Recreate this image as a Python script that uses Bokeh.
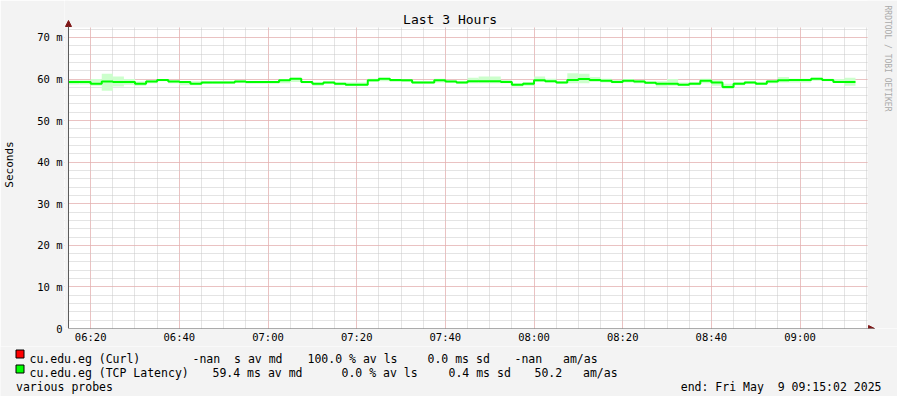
import math
import re
from bokeh.plotting import figure
from bokeh.layouts import column
from bokeh.models import (FixedTicker, Label, Arrow, NormalHead, BoxAnnotation,
                          ColumnDataSource, Range1d)
from bokeh.core.properties import value
from bokeh.embed import file_html
from bokeh.resources import INLINE

# ---------------- data ----------------
start_minute = 375          # 06:15
step_minutes = 2.5          # one RRD step = 150 s
x_end_minute = 555          # 09:15
y_top_ms = 72.4

# median TCP latency per step (ms)
median_ms = [59.3, 59.3, 58.9, 59.4, 59.3, 59.3, 58.9, 59.4, 59.8, 59.4,
             59.3, 58.9, 59.2, 59.2, 59.2, 59.4, 59.3, 59.3, 59.3, 59.7,
             60.1, 59.3, 58.9, 59.2, 58.9, 58.6, 58.6, 59.7, 60.1, 59.8,
             59.7, 59.2, 59.2, 59.7, 59.4, 59.2, 59.5, 59.5, 59.5, 59.3,
             58.6, 58.9, 59.7, 59.5, 59.2, 59.8, 60.0, 59.8, 59.6, 59.3,
             59.6, 59.4, 59.1, 58.9, 58.9, 58.6, 58.9, 59.6, 59.2, 58.1,
             58.9, 59.2, 58.9, 59.4, 59.7, 59.8, 59.8, 60.1, 59.8, 59.3,
             59.3]
# smoke band (max / min of pings per step, ms)
smoke_hi = [59.7, 59.7, 60.0, 61.3, 60.6, 60.0, 59.4, 59.8, 60.0, 59.7,
            59.5, 59.5, 59.5, 59.5, 59.5, 59.7, 59.5, 59.5, 59.5, 60.0,
            60.3, 59.4, 59.2, 59.4, 59.2, 59.2, 59.2, 60.1, 60.2, 60.0,
            59.8, 59.5, 59.5, 60.1, 59.7, 59.5, 60.3, 60.6, 60.6, 59.8,
            59.0, 59.3, 60.6, 60.1, 59.5, 61.4, 61.3, 60.5, 60.1, 59.8,
            60.0, 59.8, 59.4, 59.5, 60.0, 59.2, 59.3, 60.1, 59.7, 58.9,
            59.3, 59.5, 59.3, 59.8, 60.5, 60.1, 60.1, 60.3, 60.1, 60.0,
            60.3]
smoke_lo = [58.7, 58.7, 58.4, 57.2, 58.2, 58.6, 58.4, 59.0, 59.5, 59.0,
            58.5, 58.5, 58.9, 58.9, 58.9, 59.1, 58.9, 58.9, 58.9, 59.0,
            59.3, 59.0, 58.4, 58.9, 58.5, 58.4, 58.4, 59.3, 59.5, 59.3,
            59.3, 58.9, 58.9, 59.2, 59.2, 58.9, 59.0, 59.0, 59.0, 59.0,
            58.2, 58.4, 59.3, 59.2, 58.9, 59.0, 59.0, 59.3, 59.2, 59.0,
            59.2, 59.0, 58.9, 58.2, 58.4, 58.4, 58.5, 59.0, 58.4, 57.6,
            58.5, 58.9, 58.7, 59.0, 59.2, 59.2, 59.2, 59.6, 59.5, 59.2,
            58.4]

x_tick_minutes = [380, 400, 420, 440, 460, 480, 500, 520, 540]
x_tick_labels = ["06:20", "06:40", "07:00", "07:20", "07:40",
                 "08:00", "08:20", "08:40", "09:00"]
y_tick_values = [0, 10, 20, 30, 40, 50, 60, 70]
y_tick_labels = ["0", "10 m", "20 m", "30 m", "40 m", "50 m", "60 m", "70 m"]

title_text = "Last 3 Hours"
y_label = "Seconds"
legend_line1 = ["cu.edu.eg (Curl)", "-nan  s av md", "100.0 % av ls",
                "0.0 ms sd", "-nan   am/as"]
legend_line2 = ["cu.edu.eg (TCP Latency)", "59.4 ms av md", "0.0 % av ls",
                "0.4 ms sd", "50.2   am/as"]
legend_colors = ["#ff0000", "#00ff00"]
footer_left = "various probes"
footer_right = "end: Fri May  9 09:15:02 2025"
watermark = "RRDTOOL / TOBI OETIKER"

# ---------------- layout (canvas pixels) ----------------
W = 897
H_MAIN, H_LEG = 346, 50
PL, PR, PT, PB = 66, 866, 27, 328     # RRD plot area
FL = 62                               # frame left (y labels hang off it)
px_per_min = (PR - PL) / (x_end_minute - start_minute)
px_per_ms = (PB - PT) / y_top_ms
x_lo = start_minute - (PL - FL) / px_per_min
x_hi = x_end_minute + (W - PR) / px_per_min
y_hi = y_top_ms + PT / px_per_ms


def cx(px):
    return start_minute + (px - PL) / px_per_min


def cy(py):
    return (PB - py) / px_per_ms


def keep_spaces(s):
    # SVG collapses runs of blanks; keep them with no-break spaces
    return re.sub(r" {2,}", lambda m: "\u00a0" * len(m.group()), s)


MONO = "DejaVu Sans Mono"
BG = "#f3f3f3"
AXIS_C = "#5a5a5a"
ARROW_C = "#7f1818"

# ---------------- main figure ----------------
n = len(median_ms)
lefts = [start_minute + step_minutes * k for k in range(n)]
rights = [l + step_minutes for l in lefts]
step_x = lefts + [rights[-1]]
step_y = median_ms + [median_ms[-1]]

p = figure(width=W, height=H_MAIN, output_backend="svg", toolbar_location=None,
           title=None, x_range=Range1d(x_lo, x_hi), y_range=Range1d(0, y_hi),
           min_border_left=FL, min_border_right=0, min_border_top=0,
           min_border_bottom=H_MAIN - PB, background_fill_color="white",
           border_fill_color=BG)
p.frame_align = False
p.outline_line_color = None

p.xaxis.ticker = FixedTicker(ticks=x_tick_minutes,
                             minor_ticks=[start_minute + 5 * i for i in range(37)])
p.xaxis.major_label_overrides = dict(zip(x_tick_minutes, x_tick_labels))
p.yaxis.ticker = FixedTicker(ticks=y_tick_values,
                             minor_ticks=[2 * i for i in range(37)])
p.yaxis.major_label_overrides = dict(zip(y_tick_values, y_tick_labels))
for ax in (p.xaxis, p.yaxis):
    ax.axis_line_color = None
    ax.major_tick_line_color = None
    ax.minor_tick_line_color = None
    ax.major_tick_in = 0
    ax.major_tick_out = 0
    ax.minor_tick_in = 0
    ax.minor_tick_out = 0
    ax.major_label_text_font = MONO
    ax.major_label_text_font_size = "10.5px"
    ax.major_label_text_color = "#000000"
p.xaxis.major_label_standoff = 2
p.yaxis.major_label_standoff = 2
p.yaxis.axis_label = y_label
p.yaxis.axis_label_text_font = MONO
p.yaxis.axis_label_text_font_size = "11px"
p.yaxis.axis_label_text_font_style = "normal"
p.yaxis.axis_label_text_color = "#000000"
p.yaxis.axis_label_standoff = 18

for g in (p.xgrid, p.ygrid):
    g.grid_line_color = "#f0a0a0"
    g.grid_line_dash = "1 1"
    g.minor_grid_line_color = "#c8c8c8"
    g.minor_grid_line_dash = "1 1"

src = ColumnDataSource(dict(left=lefts, right=rights, top=smoke_hi, bottom=smoke_lo))
p.quad(left="left", right="right", top="top", bottom="bottom", source=src,
       fill_color="#ccffcc", line_color=None)
p.step(step_x, step_y, mode="after", line_color="#00ff00", line_width=2)

# grey canvas around the plot area (inside the frame)
for l, r, b, t in [(x_lo, x_hi, y_top_ms, y_hi),          # top strip
                   (cx(PR + 1), x_hi, 0, y_hi),           # right strip
                   (x_lo, start_minute, 0, y_hi)]:        # thin left strip
    p.add_layout(BoxAnnotation(left=l, right=r, bottom=b, top=t,
                               fill_color=BG, fill_alpha=1, line_color=None))

# axes with arrow heads
p.add_layout(Arrow(x_start=start_minute, y_start=0, x_end=cx(874), y_end=0,
                   line_color=AXIS_C, line_width=1,
                   end=NormalHead(size=6, fill_color=ARROW_C, line_color=ARROW_C)))
p.add_layout(Arrow(x_start=start_minute, y_start=0, x_end=start_minute, y_end=cy(20),
                   line_color=AXIS_C, line_width=1,
                   end=NormalHead(size=6, fill_color=ARROW_C, line_color=ARROW_C)))

p.add_layout(Label(text=title_text, x=cx(448.5), y=cy(19), text_font=MONO,
                   text_font_size="13px", text_align="center",
                   text_baseline="middle", text_color="#000000"))
p.add_layout(Label(text=watermark, x=cx(887), y=cy(5), text_font=MONO,
                   text_font_size="8px", text_align="left", text_baseline="middle",
                   angle=-math.pi / 2, text_color="#aaaaaa"))

# ---------------- legend strip ----------------
leg = figure(width=W, height=H_LEG, output_backend="svg", toolbar_location=None,
             title=None, x_range=Range1d(0, W),
             y_range=Range1d(H_MAIN + H_LEG, H_MAIN),
             x_axis_location=None, y_axis_location=None,
             min_border=0, background_fill_color=BG, border_fill_color=BG)
leg.frame_align = False
leg.outline_line_color = None
leg.grid.visible = False

xs1 = [29, 192, 307, 427, 514]
xs2 = [29, 212, 341, 448, 534]
texts = [keep_spaces(t) for t in legend_line1 + legend_line2 + [footer_left]]
tx = xs1 + xs2 + [15.5]
ty = [358] * 5 + [372] * 5 + [386]
leg.text(x=tx, y=ty, text=texts, text_font=value(MONO),
         text_font_size=value("11.5px"), text_baseline="alphabetic",
         text_align="left", text_color="#000000")
leg.text(x=[881], y=[386], text=[keep_spaces(footer_right)], text_font=value(MONO),
         text_font_size=value("11.5px"), text_baseline="alphabetic",
         text_align="right", text_color="#000000")
leg.quad(left=[15.5, 15.5], right=[23.5, 23.5], top=[349.5, 364.5],
         bottom=[357.5, 372.5], fill_color=legend_colors, line_color="#000000",
         line_width=1)

layout = column(p, leg, spacing=0)
open("out.html", "w").write(file_html(layout, INLINE))
